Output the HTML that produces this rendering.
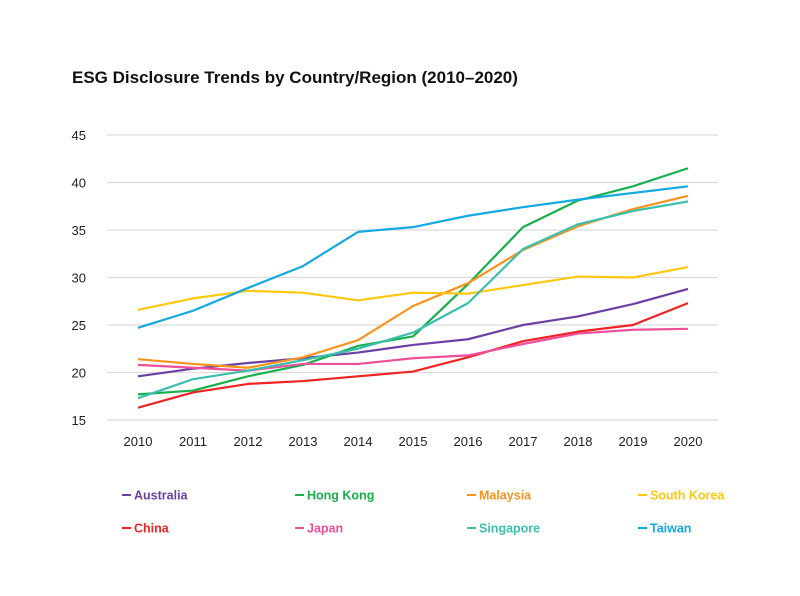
<!DOCTYPE html>
<html><head><meta charset="utf-8"><style>
body{margin:0;background:#fff;font-family:"Liberation Sans",sans-serif}
</style></head><body>
<svg id="c" width="800" height="591" xmlns="http://www.w3.org/2000/svg">
<text x="72" y="83" font-size="17" font-weight="bold" fill="#111">ESG Disclosure Trends by Country/Region (2010–2020)</text>
<g id="grid"></g><g id="lines"></g><g id="legend"></g>
</svg>
<script>
const years=["2010","2011","2012","2013","2014","2015","2016","2017","2018","2019","2020"];
const yTicks=[15,20,25,30,35,40,45];
const seriesNames=["Australia","Hong Kong","Malaysia","South Korea","China","Japan","Singapore","Taiwan"];
const australia=[19.6,20.4,21.0,21.5,22.1,22.9,23.5,25.0,25.9,27.2,28.8];
const hongKong=[17.7,18.1,19.6,20.8,22.8,23.8,29.3,35.3,38.1,39.6,41.5];
const malaysia=[21.4,20.9,20.5,21.6,23.4,27.0,29.4,32.9,35.4,37.2,38.6];
const southKorea=[26.6,27.8,28.6,28.4,27.6,28.4,28.3,29.2,30.1,30.0,31.1];
const china=[16.3,17.9,18.8,19.1,19.6,20.1,21.6,23.3,24.3,25.0,27.3];
const japan=[20.8,20.5,20.2,20.9,20.9,21.5,21.8,23.0,24.1,24.5,24.6];
const singapore=[17.3,19.3,20.2,21.3,22.5,24.2,27.3,33.0,35.6,37.0,38.0];
const taiwan=[24.7,26.5,28.9,31.2,34.8,35.3,36.5,37.4,38.2,38.9,39.6];
const seriesValues=[australia,hongKong,malaysia,southKorea,china,japan,singapore,taiwan];
const colors=["#6b40a3","#17b04b","#f7941d","#ffc80f","#ee2424","#ee4f9b","#3cbfae","#13a9e1"];
const NS="http://www.w3.org/2000/svg";
const x=i=>138+i*55;
const y=v=>420-(v-15)*9.5;
function mk(t,a,p){const e=document.createElementNS(NS,t);for(const k in a)e.setAttribute(k,a[k]);p.appendChild(e);return e;}
const grid=document.getElementById('grid');
yTicks.forEach(t=>{
 const l=mk('line',{x1:107,x2:718,y1:y(t),y2:y(t),stroke:"#dcdcdc","stroke-width":1.3},grid);
 
 
 const tx=mk('text',{x:86,y:y(t)+5,"font-size":13,fill:"#222","text-anchor":"end"},grid);
 tx.textContent=t;
 
 
});
years.forEach((yr,i)=>{
 const tx=mk('text',{x:x(i),y:446,"font-size":13,fill:"#222","text-anchor":"middle"},grid);
 tx.textContent=yr;
 
 
});
const lines=document.getElementById('lines');
seriesValues.forEach((vals,s)=>{
 const p=mk('polyline',{points:vals.map((v,i)=>x(i)+","+y(v)).join(" "),fill:"none",stroke:colors[s],"stroke-width":2.2,"stroke-linejoin":"round"},lines);
 
 
});
const lg=document.getElementById('legend');
const lx=[122,295,467,638];
seriesNames.forEach((n,s)=>{
 const gx=lx[s%4], gy=s<4?495:528;
 const g=mk('g',{},lg);
 
 
 mk('line',{x1:gx,x2:gx+9,y1:gy,y2:gy,stroke:colors[s],"stroke-width":2},g);
 const t=mk('text',{x:gx+12,y:gy+4.5,"font-size":12.5,"font-weight":"bold",fill:colors[s]},g);
 t.textContent=n;
});
</script>
</body></html>
